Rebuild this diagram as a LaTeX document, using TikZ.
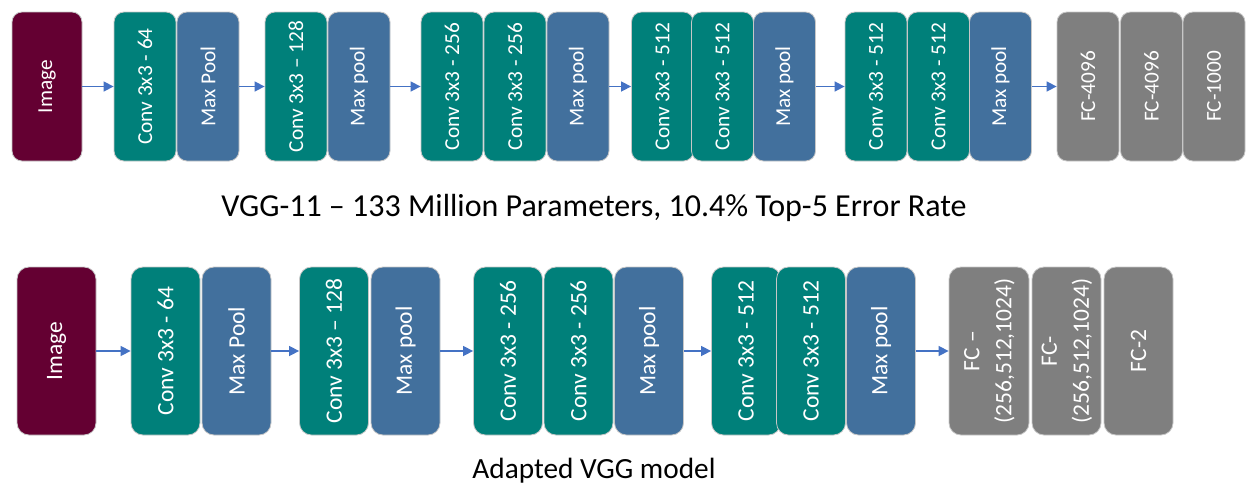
\documentclass[tikz,border=0pt]{standalone}
\usepackage{fontspec}
\setmainfont{Carlito}
\usepackage{graphicx}
\usetikzlibrary{arrows.meta}
\definecolor{imgred}{RGB}{100,0,50}
\definecolor{convteal}{RGB}{0,128,122}
\definecolor{poolblue}{RGB}{66,112,157}
\definecolor{fcgray}{RGB}{127,127,127}
\definecolor{arrowblue}{RGB}{68,114,196}
\tikzset{
	blk/.style={draw=black!22, line width=0.8pt, rounded corners=10pt, inner sep=0pt, text=white,
		minimum height=149pt, minimum width=62pt, font=\fontsize{21.3}{29}\selectfont},
	big/.style={minimum height=168pt, minimum width=69pt, rounded corners=12pt, font=\fontsize{23.5}{32}\selectfont},
	imgblk/.style={blk, fill=imgred},
	convblk/.style={blk, fill=convteal},
	poolblk/.style={blk, fill=poolblue},
	fcblk/.style={blk, fill=fcgray},
	flow/.style={arrowblue, line width=1.5pt, -{Triangle[length=10pt,width=10pt]}},
	caption/.style={font=\fontsize{32}{38}\selectfont, inner sep=0pt}
}
\newcommand{\vtext}[1]{\rotatebox{90}{#1}}
\newcommand{\vtwo}[2]{\rotatebox{90}{\begin{tabular}{@{}c@{}}#1\\#2\end{tabular}}}

\begin{document}
\begin{tikzpicture}[x=1pt, y=-1pt]
			\useasboundingbox (0,0) rectangle (1248,490);
			
			\node[imgblk, minimum width=70pt] (img1) at (47,86.5) {\vtext{Image}};
			\node[convblk] (c11) at (145,86.5) {\vtext{Conv 3x3 - 64}};
			\node[poolblk] (p11) at (208,86.5) {\vtext{Max Pool}};
			\node[convblk] (c12) at (296,86.5) {\vtext{Conv 3x3 -- 128}};
			\node[poolblk] (p12) at (359,86.5) {\vtext{Max pool}};
			\node[convblk] (c13) at (452,86.5) {\vtext{Conv 3x3 - 256}};
			\node[convblk] (c14) at (515,86.5) {\vtext{Conv 3x3 - 256}};
			\node[poolblk] (p13) at (578,86.5) {\vtext{Max pool}};
			\node[convblk] (c15) at (662.5,86.5) {\vtext{Conv 3x3 - 512}};
			\node[convblk] (c16) at (722.5,86.5) {\vtext{Conv 3x3 - 512}};
			\node[poolblk] (p14) at (784.5,86.5) {\vtext{Max pool}};
			\node[convblk] (c17) at (876,86.5) {\vtext{Conv 3x3 - 512}};
			\node[convblk] (c18) at (938.5,86.5) {\vtext{Conv 3x3 - 512}};
			\node[poolblk] (p15) at (1000.5,86.5) {\vtext{Max pool}};
			\node[fcblk] (f11) at (1088,86.5) {\vtext{FC-4096}};
			\node[fcblk] (f12) at (1151.5,86.5) {\vtext{FC-4096}};
			\node[fcblk] (f13) at (1214,86.5) {\vtext{FC-1000}};
			
			\draw[flow] (img1) -- (c11);
			\draw[flow] (p11) -- (c12);
			\draw[flow] (p12) -- (c13);
			\draw[flow] (p13) -- (c15);
			\draw[flow] (p14) -- (c17);
			\draw[flow] (p15) -- (f11);
			
			\node[caption] (cap1) at (594,208) {VGG-11 -- 133 Million Parameters, 10.4\% Top-5 Error Rate};
			
			\node[imgblk, big, minimum width=79pt] (img2) at (56.5,351) {\vtext{Image}};
			\node[convblk, big] (c21) at (165.5,351) {\vtext{Conv 3x3 - 64}};
			\node[poolblk, big] (p21) at (236.5,351) {\vtext{Max Pool}};
			\node[convblk, big] (c22) at (334,351) {\vtext{Conv 3x3 -- 128}};
			\node[poolblk, big] (p22) at (405.5,351) {\vtext{Max pool}};
			\node[convblk, big] (c23) at (508,351) {\vtext{Conv 3x3 - 256}};
			\node[convblk, big] (c24) at (578.5,351) {\vtext{Conv 3x3 - 256}};
			\node[poolblk, big] (p23) at (649,351) {\vtext{Max pool}};
			\node[convblk, big] (c25) at (746,351) {\vtext{Conv 3x3 - 512}};
			\node[convblk, big] (c26) at (811,351) {\vtext{Conv 3x3 - 512}};
			\node[poolblk, big] (p24) at (881,351) {\vtext{Max pool}};
			\node[fcblk, big, minimum width=80pt] (f21) at (989,351) {\vtwo{FC --}{(256,512,1024)}};
			\node[fcblk, big] (f22) at (1066.5,351) {\vtwo{FC-}{(256,512,1024)}};
			\node[fcblk, big] (f23) at (1138.5,351) {\vtext{FC-2}};
			
			\draw[flow] (img2) -- (c21);
			\draw[flow] (p21) -- (c22);
			\draw[flow] (p22) -- (c23);
			\draw[flow] (p23) -- (c25);
			\draw[flow] (p24) -- (f21);
			
			\node[caption, font=\fontsize{29.3}{35}\selectfont] (cap2) at (594,471) {Adapted VGG model};
\end{tikzpicture}
\end{document}
